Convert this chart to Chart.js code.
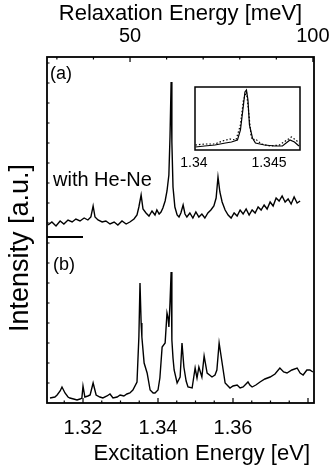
<!DOCTYPE html>
<html>
<head>
<meta charset="utf-8">
<script src="https://cdn.jsdelivr.net/npm/chart.js@4"></script>
<style>
  body { margin: 0; background: #fff; }
  #wrap { position: relative; width: 333px; height: 468px; }
  #main { position: absolute; left: 0; top: 0; }
  #inset { position: absolute; left: 180px; top: 80px; }
</style>
</head>
<body>
<div id="wrap">
  <canvas id="main" width="333" height="468"></canvas>
  <canvas id="inset" width="125" height="100"></canvas>
</div>
<script>
// panel (a): with He-Ne
const energyA = [1.3107, 1.3117, 1.3128, 1.3139, 1.3149, 1.3160, 1.3171, 1.3181, 1.3192, 1.3203,
  1.3213, 1.3221, 1.3227, 1.3232, 1.3240, 1.3251, 1.3261, 1.3272, 1.3283, 1.3293,
  1.3304, 1.3315, 1.3325, 1.3336, 1.3344, 1.3349, 1.3355, 1.3360, 1.3368, 1.3376,
  1.3384, 1.3392, 1.3397, 1.3403, 1.3408, 1.3413, 1.3419, 1.3424, 1.3429, 1.3432,
  1.3435, 1.3437, 1.3440, 1.3445, 1.3451, 1.3456, 1.3461, 1.3467, 1.3472, 1.3477,
  1.3485, 1.3493, 1.3501, 1.3509, 1.3517, 1.3525, 1.3533, 1.3541, 1.3549, 1.3555,
  1.3560, 1.3565, 1.3571, 1.3579, 1.3587, 1.3595, 1.3603, 1.3611, 1.3619, 1.3627,
  1.3635, 1.3643, 1.3651, 1.3659, 1.3667, 1.3675, 1.3683, 1.3691, 1.3699, 1.3707,
  1.3715, 1.3723, 1.3731, 1.3739, 1.3747, 1.3755, 1.3763, 1.3771, 1.3779];
const intensityA = [12, 15, 11, 16, 13, 17, 15, 18, 16, 19,
  17, 20, 31, 20, 17, 15, 16, 13, 15, 12,
  16, 13, 15, 18, 22, 30, 42, 28, 24, 21,
  26, 22, 27, 23, 25, 29, 36, 46, 62, 100,
  155, 95, 50, 30, 22, 20, 24, 32, 23, 20,
  24, 19, 25, 20, 23, 19, 24, 27, 31, 39,
  60, 45, 35, 27, 22, 19, 24, 21, 27, 23,
  28, 22, 27, 24, 30, 27, 32, 28, 35, 31,
  39, 36, 41, 35, 38, 33, 40, 34, 36];

// panel (b): without He-Ne
const energyB = [1.3112, 1.3125, 1.3131, 1.3139, 1.3144, 1.3152, 1.3160, 1.3165, 1.3175, 1.3184,
  1.3192, 1.3197, 1.3200, 1.3205, 1.3213, 1.3219, 1.3227, 1.3235, 1.3245, 1.3253,
  1.3264, 1.3272, 1.3280, 1.3291, 1.3299, 1.3309, 1.3317, 1.3325, 1.3333, 1.3344,
  1.3349, 1.3352, 1.3355, 1.3357, 1.3363, 1.3371, 1.3379, 1.3387, 1.3392, 1.3400,
  1.3405, 1.3411, 1.3419, 1.3424, 1.3427, 1.3429, 1.3432, 1.3435, 1.3437, 1.3440,
  1.3443, 1.3451, 1.3459, 1.3464, 1.3469, 1.3475, 1.3480, 1.3491, 1.3499, 1.3504,
  1.3509, 1.3517, 1.3523, 1.3531, 1.3544, 1.3552, 1.3557, 1.3563, 1.3571, 1.3579,
  1.3592, 1.3600, 1.3611, 1.3619, 1.3627, 1.3640, 1.3645, 1.3651, 1.3661, 1.3672,
  1.3685, 1.3699, 1.3712, 1.3725, 1.3735, 1.3744, 1.3757, 1.3771, 1.3779, 1.3787,
  1.3797, 1.3805, 1.3813];
const intensityB = [5, 6, 8, 12, 16, 10, 6, 5, 4, 3,
  4, 5, 17, 6, 7, 8, 20, 8, 6, 5,
  7, 9, 5, 6, 8, 7, 9, 10, 13, 21,
  66, 120, 80, 66, 40, 30, 13, 10, 10, 13,
  25, 56, 60, 90, 85, 76, 100, 131, 63, 45,
  33, 20, 26, 60, 36, 22, 16, 15, 35, 25,
  36, 26, 47, 30, 26, 28, 33, 60, 40, 20,
  15, 17, 18, 15, 16, 21, 18, 16, 18, 21,
  24, 26, 29, 35, 31, 30, 33, 35, 30, 28,
  33, 33, 31];

// inset: solid and dotted traces around 1.343 eV
const insetEnergySolid = [1.3399, 1.3405, 1.3412, 1.3419, 1.3423, 1.3427, 1.3429, 1.3431, 1.3432, 1.3433,
  1.3434, 1.3435, 1.3437, 1.3439, 1.3445, 1.3452, 1.3457, 1.3462, 1.3465, 1.3468];
const insetSolid = [3, 4, 5, 7, 8, 10, 20, 45, 58, 60, 50, 25, 12, 7, 5, 4, 4, 10, 8, 4];
const insetEnergyDotted = [1.3399, 1.3405, 1.3412, 1.3417, 1.3422, 1.3426, 1.3429, 1.3431, 1.3433, 1.3434,
  1.3436, 1.3437, 1.3439, 1.3443, 1.3449, 1.3455, 1.3460, 1.3463, 1.3466, 1.3468];
const insetDotted = [5, 6, 6, 9, 11, 10, 25, 50, 58, 45, 15, 10, 11, 6, 4, 5, 10, 13, 10, 7];

const xTicks = [1.32, 1.34, 1.36, 1.38];
const xTickLabels = ['1.32', '1.34', '1.36', ''];
const topTicks = [50, 100];
const topTickLabels = ['50', '100'];
const insetTicks = [1.34, 1.345];
const insetTickLabels = ['1.34', '1.345'];

const FONT = '"Liberation Sans", Arial, sans-serif';

function pts(xs, ys) {
  return xs.map((x, i) => ({ x: x, y: ys[i] }));
}

// box, inward ticks, tick labels, titles, panel labels
const mainDeco = {
  id: 'mainDeco',
  afterDatasetsDraw(chart) {
    const { ctx, chartArea: a, scales } = chart;
    const x = scales.x, x2 = scales.x2, yA = scales.yA, yB = scales.yB;
    ctx.save();
    ctx.strokeStyle = '#000';
    ctx.lineWidth = 1.2;
    ctx.beginPath();
    xTicks.forEach(v => {
      const px = x.getPixelForValue(v);
      ctx.moveTo(px, a.bottom); ctx.lineTo(px, a.bottom - 5);
    });
    for (let v = 1.315; v < 1.381; v += 0.005) {
      const px = x.getPixelForValue(v);
      ctx.moveTo(px, a.bottom); ctx.lineTo(px, a.bottom - 2.5);
    }
    topTicks.forEach(v => {
      const px = x2.getPixelForValue(v);
      ctx.moveTo(px, a.top); ctx.lineTo(px, a.top + 5);
    });
    for (let v = 30; v < 100; v += 10) {
      const px = x2.getPixelForValue(v);
      ctx.moveTo(px, a.top); ctx.lineTo(px, a.top + 2.5);
    }
    // small inward ticks on the left edge
    for (let v = 20; v < 346; v += 20) {
      const py = yB.getPixelForValue(v);
      ctx.moveTo(a.left, py); ctx.lineTo(a.left + 2.5, py);
    }
    ctx.stroke();

    // zero line of panel (a)
    const y0 = yA.getPixelForValue(0);
    ctx.lineWidth = 2;
    ctx.beginPath();
    ctx.moveTo(a.left, y0); ctx.lineTo(x.getPixelForValue(1.32), y0);
    ctx.stroke();

    ctx.lineWidth = 1.8;
    ctx.strokeRect(a.left, a.top, a.right - a.left, a.bottom - a.top);

    ctx.fillStyle = '#000';
    ctx.textBaseline = 'middle';

    // tick labels
    ctx.textAlign = 'center';
    ctx.font = '20px ' + FONT;
    xTicks.forEach((v, i) => ctx.fillText(xTickLabels[i], x.getPixelForValue(v), a.bottom + 25));
    topTicks.forEach((v, i) => ctx.fillText(topTickLabels[i], x2.getPixelForValue(v), a.top - 21));

    // axis titles
    ctx.font = '22px ' + FONT;
    ctx.fillText('Relaxation Energy [meV]', (a.left + a.right) / 2, 14);
    ctx.textAlign = 'right';
    ctx.fillText('Excitation Energy [eV]', a.right - 4, a.bottom + 51);

    // panel labels
    ctx.textAlign = 'left';
    ctx.font = '18px ' + FONT;
    ctx.fillText('(a)', a.left + 3, a.top + 17);
    ctx.fillText('(b)', a.left + 6, a.bottom - 138);
    ctx.font = '20px ' + FONT;
    ctx.fillText('with He-Ne', a.left + 6, yA.getPixelForValue(57));

    // y axis title
    ctx.translate(21, (a.top + a.bottom) / 2 + 18);
    ctx.rotate(-Math.PI / 2);
    ctx.textAlign = 'center';
    ctx.font = '27px ' + FONT;
    ctx.fillText('Intensity [a.u.]', 0, 0);
    ctx.restore();
  }
};

const insetDeco = {
  id: 'insetDeco',
  afterDatasetsDraw(chart) {
    const { ctx, chartArea: a, scales } = chart;
    ctx.save();
    ctx.strokeStyle = '#000';
    ctx.lineWidth = 1.5;
    ctx.strokeRect(a.left, a.top, a.right - a.left, a.bottom - a.top);
    ctx.fillStyle = '#000';
    ctx.textAlign = 'center';
    ctx.textBaseline = 'middle';
    ctx.font = '14px ' + FONT;
    insetTicks.forEach((v, i) => ctx.fillText(insetTickLabels[i], scales.x.getPixelForValue(v) - 3, a.bottom + 13));
    ctx.restore();
  }
};

new Chart(document.getElementById('main'), {
  type: 'line',
  data: {
    datasets: [
      { data: pts(energyA, intensityA), yAxisID: 'yA', xAxisID: 'x' },
      { data: pts(energyB, intensityB), yAxisID: 'yB', xAxisID: 'x' }
    ]
  },
  options: {
    responsive: false,
    animation: false,
    events: [],
    layout: { padding: { left: 47, right: 19, top: 57, bottom: 65 } },
    plugins: { legend: { display: false }, tooltip: { enabled: false } },
    elements: {
      point: { radius: 0 },
      line: { borderColor: '#000', borderWidth: 1.4, tension: 0 }
    },
    scales: {
      x: { type: 'linear', display: false, min: 1.3104, max: 1.3816 },
      x2: { type: 'linear', display: false, min: 27.3, max: 100.3 },
      yA: { type: 'linear', display: false, min: -166, max: 180 },
      yB: { type: 'linear', display: false, min: 0, max: 346 }
    }
  },
  plugins: [mainDeco]
});

new Chart(document.getElementById('inset'), {
  type: 'line',
  data: {
    datasets: [
      { data: pts(insetEnergySolid, insetSolid), borderColor: '#000', borderWidth: 1.2 },
      { data: pts(insetEnergyDotted, insetDotted), borderColor: '#000', borderWidth: 1.2, borderDash: [1.5, 2] }
    ]
  },
  options: {
    responsive: false,
    animation: false,
    events: [],
    layout: { padding: { left: 15, right: 5, top: 7, bottom: 30 } },
    plugins: { legend: { display: false }, tooltip: { enabled: false } },
    elements: { point: { radius: 0 }, line: { tension: 0 } },
    scales: {
      x: { type: 'linear', display: false, min: 1.33987, max: 1.34687 },
      y: { display: false, min: 0, max: 63 }
    }
  },
  plugins: [insetDeco]
});
</script>
</body>
</html>
